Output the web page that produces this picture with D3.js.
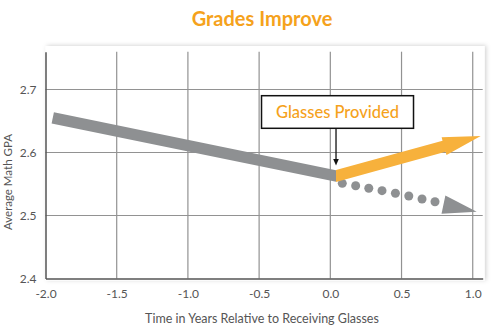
<!DOCTYPE html>
<html>
<head>
<meta charset="utf-8">
<script src="https://cdn.jsdelivr.net/npm/d3@7"></script>
<style>
  html, body { margin: 0; padding: 0; background: #ffffff; }
  svg { display: block; font-family: Lato, "Open Sans", sans-serif; }
</style>
</head>
<body>
<svg id="chart" width="500" height="332"></svg>
<script>
// ---- data ----
const title = "Grades Improve";
const xTitle = "Time in Years Relative to Receiving Glasses";
const yTitle = "Average Math GPA";
const xTicks = [-2.0, -1.5, -1.0, -0.5, 0.0, 0.5, 1.0];
const yTicks = [2.4, 2.5, 2.6, 2.7];
const beforeX = [-1.949, 0.04];
const beforeY = [2.655, 2.5627];
const afterX = [0.04, 1.056];
const afterY = [2.5627, 2.626];
const counterX = [0.084, 0.178, 0.270, 0.363, 0.457, 0.551, 0.644, 0.735];
const counterY = [2.5511, 2.5473, 2.5432, 2.5394, 2.5353, 2.5310, 2.5262, 2.5219];
const counterTipX = [1.028];
const counterTipY = [2.506];
const annotationLabel = "Glasses Provided";
const annotationX = [0.04];

// ---- layout ----
const svg = d3.select("#chart");
const x = d3.scaleLinear().domain([-2, 1.07]).range([45.5, 482.7]);
const y = d3.scaleLinear().domain([2.4, 2.76]).range([278.5, 51.7]);

const grey = "#8e9092";
const orange = "#f7b13c";
const titleOrange = "#f5a21c";
const textCol = "#555555";
const fmt = d => d.toFixed(1);

const defs = svg.append("defs");
const f = defs.append("filter").attr("id", "shadow").attr("x", "-5%").attr("y", "-5%").attr("width", "110%").attr("height", "110%");
f.append("feDropShadow").attr("dx", 1.5).attr("dy", -0.5).attr("stdDeviation", 2).attr("flood-color", "#000").attr("flood-opacity", 0.18);

// panel
svg.append("rect")
  .attr("x", x.range()[0]).attr("y", 46)
  .attr("width", x.range()[1] - x.range()[0] + 2)
  .attr("height", y.range()[0] - 46 + 2)
  .attr("fill", "#fff").attr("filter", "url(#shadow)");

// title
svg.append("text").attr("x", 262).attr("y", 26).attr("text-anchor", "middle")
  .attr("font-size", 20).attr("font-weight", 700).attr("fill", titleOrange).text(title);

// gridlines
const grid = svg.append("g");
grid.selectAll("line.v").data(xTicks.slice(1)).enter().append("line")
  .attr("x1", d => x(d)).attr("x2", d => x(d))
  .attr("y1", y.range()[1]).attr("y2", y.range()[0])
  .attr("stroke", "#929292").attr("stroke-width", 1.2);
grid.selectAll("line.h").data(yTicks.slice(1)).enter().append("line")
  .attr("x1", x.range()[0]).attr("x2", x.range()[1])
  .attr("y1", d => y(d)).attr("y2", d => y(d))
  .attr("stroke", "#929292").attr("stroke-width", 1.2);

// axes
const xAxis = svg.append("g").attr("transform", `translate(0,${y.range()[0]})`)
  .call(d3.axisBottom(x).tickValues(xTicks).tickFormat(fmt).tickSize(0).tickPadding(11));
xAxis.select(".domain").attr("stroke", "#555").attr("stroke-width", 1.5);
xAxis.selectAll("text").attr("font-size", 12).attr("fill", textCol).attr("font-family", "Lato, sans-serif");

const yAxis = svg.append("g").attr("transform", `translate(${x.range()[0]},0)`)
  .call(d3.axisLeft(y).tickValues(yTicks).tickFormat(fmt).tickSize(0).tickPadding(9));
yAxis.select(".domain").attr("stroke", "#555").attr("stroke-width", 1.5);
yAxis.selectAll("text").attr("font-size", 12).attr("fill", textCol).attr("font-family", "Lato, sans-serif");

// axis titles
svg.append("text").attr("x", 262).attr("y", 323).attr("text-anchor", "middle")
  .attr("font-size", 12.5).attr("fill", textCol).text(xTitle);
svg.append("text").attr("transform", "translate(12,182) rotate(-90)").attr("text-anchor", "middle")
  .attr("font-size", 11.5).attr("fill", textCol).text(yTitle);

// ---- marks ----
const marks = svg.append("g");

// counterfactual dots
marks.selectAll("circle").data(counterX.map((v, i) => [v, counterY[i]])).enter().append("circle")
  .attr("cx", d => x(d[0])).attr("cy", d => y(d[1])).attr("r", 4.5).attr("fill", grey);

// counterfactual arrowhead
(function () {
  const first = [x(counterX[0]), y(counterY[0])];
  const tip = [x(counterTipX[0]), y(counterTipY[0])];
  let ux = tip[0] - first[0], uy = tip[1] - first[1];
  const len = Math.hypot(ux, uy); ux /= len; uy /= len;
  const nx = -uy, ny = ux;
  const hl = 34, hw = 9.3;
  const b = [tip[0] - ux * hl, tip[1] - uy * hl];
  marks.append("path").attr("fill", grey)
    .attr("d", d3.line()([[b[0] + nx * hw, b[1] + ny * hw], tip, [b[0] - nx * hw, b[1] - ny * hw]]) + "Z");
})();

// band helper: left end perpendicular, right end vertical
function band(p0, p1, t) {
  let ux = p1[0] - p0[0], uy = p1[1] - p0[1];
  const len = Math.hypot(ux, uy); ux /= len; uy /= len;
  const nx = -uy, ny = ux;
  const hv = (t / 2) / ux;
  return [[p0[0] - nx * t / 2, p0[1] - ny * t / 2], [p1[0], p1[1] - hv],
          [p1[0], p1[1] + hv], [p0[0] + nx * t / 2, p0[1] + ny * t / 2]];
}
const t = 11.5;
const b0 = [x(beforeX[0]), y(beforeY[0])], b1 = [x(beforeX[1]), y(beforeY[1])];
const bp = band(b0, b1, t);
marks.append("path").attr("fill", grey).attr("d", d3.line()(bp) + "Z");

// orange arrow: vertical start, shaft, head
(function () {
  const s = [x(afterX[0]), y(afterY[0])], tip = [x(afterX[1]), y(afterY[1])];
  let ux = tip[0] - s[0], uy = tip[1] - s[1];
  const len = Math.hypot(ux, uy); ux /= len; uy /= len;
  const nx = -uy, ny = ux;
  const hv = (t / 2) / ux;
  const hl = 38, hw = 9.2;
  const b = [tip[0] - ux * hl, tip[1] - uy * hl];
  const pts = [
    [s[0], s[1] - hv],
    [b[0] - nx * t / 2, b[1] - ny * t / 2],
    [b[0] - nx * hw, b[1] - ny * hw],
    tip,
    [b[0] + nx * hw, b[1] + ny * hw],
    [b[0] + nx * t / 2, b[1] + ny * t / 2],
    [s[0], s[1] + hv]
  ];
  marks.append("path").attr("fill", orange).attr("d", d3.line()(pts) + "Z");
})();

// annotation
const ax = x(annotationX[0]);
const bw = 152, bh = 32.6, by = 95.7;
svg.append("rect").attr("x", ax - bw / 2 + 1.5).attr("y", by).attr("width", bw).attr("height", bh)
  .attr("fill", "#fff").attr("stroke", "#111").attr("stroke-width", 1.5);
svg.append("text").attr("x", ax + 1.5).attr("y", by + 22.5).attr("text-anchor", "middle")
  .attr("font-size", 16.5).attr("font-weight", 500).attr("fill", titleOrange).text(annotationLabel);
svg.append("line").attr("x1", ax).attr("x2", ax).attr("y1", by + bh).attr("y2", 160)
  .attr("stroke", "#111").attr("stroke-width", 1.3);
svg.append("path").attr("fill", "#111")
  .attr("d", d3.line()([[ax - 2.8, 159], [ax + 2.8, 159], [ax, 165.5]]) + "Z");
</script>
</body>
</html>
